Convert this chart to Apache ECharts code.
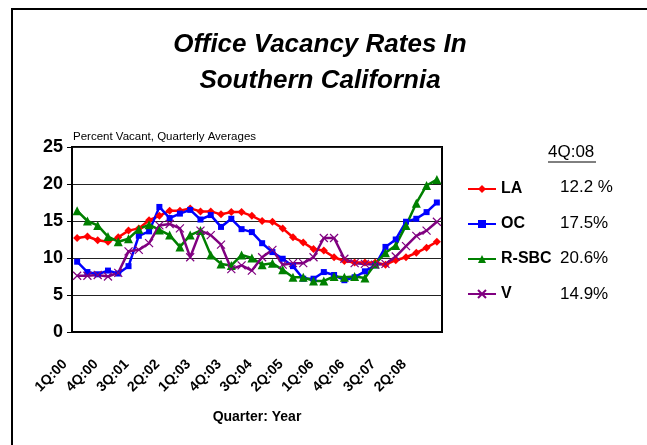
<!DOCTYPE html>
<html>
<head>
<meta charset="utf-8">
<script src="https://cdn.jsdelivr.net/npm/echarts@6/dist/echarts.min.js"></script>
<style>
html,body{margin:0;padding:0;background:#fff;}
#main{width:647px;height:445px;}
</style>
</head>
<body>
<div id="main"></div>
<script>
var quarters = ['1Q:00','2Q:00','3Q:00','4Q:00','1Q:01','2Q:01','3Q:01','4Q:01','1Q:02','2Q:02','3Q:02','4Q:02',
  '1Q:03','2Q:03','3Q:03','4Q:03','1Q:04','2Q:04','3Q:04','4Q:04','1Q:05','2Q:05','3Q:05','4Q:05',
  '1Q:06','2Q:06','3Q:06','4Q:06','1Q:07','2Q:07','3Q:07','4Q:07','1Q:08','2Q:08','3Q:08','4Q:08'];
var seriesNames = ['LA','OC','R-SBC','V'];
var LA = [12.7,12.9,12.4,12.2,12.8,13.7,14.0,15.1,15.7,16.4,16.4,16.7,16.3,16.3,15.9,16.2,16.2,15.7,15.0,14.9,14.0,12.8,12.1,11.2,11.0,10.1,9.6,9.4,9.4,9.4,9.1,9.7,10.1,10.7,11.4,12.2];
var OC = [9.5,8.1,7.8,8.3,7.9,8.9,13.0,13.6,16.9,15.4,16.0,16.5,15.2,15.8,14.2,15.3,13.9,13.5,12.0,10.8,9.9,8.9,7.2,7.2,8.1,7.7,7.0,7.4,8.2,9.0,11.5,12.5,14.9,15.3,16.2,17.5];
var RSBC = [16.4,15.0,14.4,12.9,12.2,12.6,13.9,14.5,13.8,13.1,11.5,13.1,13.7,10.4,9.2,9.0,10.4,10.0,9.1,9.3,8.4,7.4,7.4,6.9,6.9,7.5,7.4,7.5,7.3,9.2,10.7,11.7,14.4,17.4,19.8,20.6];
var V = [7.6,7.6,7.7,7.5,8.0,10.9,11.1,12.0,14.4,14.6,14.0,10.1,13.7,13.1,11.8,8.5,9.0,8.3,10.1,11.1,9.1,9.3,9.3,10.1,12.7,12.7,9.9,9.3,9.2,9.1,9.2,10.2,11.6,13.0,13.7,14.9];
var latestHeader = '4Q:08';
var latestValues = ['12.2 %','17.5%','20.6%','14.9%'];
var yTicks = [0,5,10,15,20,25];

var FONT = "Arial, 'Liberation Sans', sans-serif";
var chart = echarts.init(document.getElementById('main'), null, {renderer:'canvas'});

var colors = ['#FF0000','#0000FF','#008000','#800080'];
var symbols = ['diamond','rect','triangle','path://M0,0L10,10M10,0L0,10'];
var symbolSizes = [8,6,9,8];
var dataSets = [LA, OC, RSBC, V];

var series = seriesNames.map(function(n, i){
  return {
    name: n, type: 'line', data: dataSets[i],
    symbol: symbols[i], symbolSize: symbolSizes[i], showAllSymbol: true,
    lineStyle: {color: colors[i], width: 2.5},
    itemStyle: {color: colors[i], borderColor: colors[i], borderWidth: i===3 ? 1.2 : 0},
    emphasis: {disabled: true},
    animation: false
  };
});

var legendTop = 176, rowGap = 35.5;
var graphics = [
  {type:'rect', shape:{x:12, y:9, width:700, height:500}, style:{fill:'none', stroke:'#000', lineWidth:2}, silent:true},
  {type:'text', left:73, top:131, style:{text:'Percent Vacant, Quarterly Averages', font:'11.5px '+FONT, fill:'#000'}},
  {type:'text', left:548, top:144, style:{text:latestHeader, font:'17px '+FONT, fill:'#000'}},
  {type:'line', shape:{x1:548, y1:162, x2:596, y2:162}, style:{stroke:'#000', lineWidth:1}}
];
latestValues.forEach(function(v, i){
  graphics.push({type:'text', left:560, top: 179 + i*rowGap, style:{text:v, font:'17px '+FONT, fill:'#000'}});
});

chart.setOption({
  animation: false,
  backgroundColor: '#fff',
  title: {
    text: 'Office Vacancy Rates In\nSouthern California',
    left: 315, top: 22, textAlign: 'center',
    textStyle: {fontFamily: FONT, fontSize: 26, fontWeight: 'bold', fontStyle: 'italic', color: '#000', lineHeight: 36}
  },
  grid: {left: 72, top: 147, width: 370, height: 185, show: true, borderColor: '#000', borderWidth: 2, backgroundColor: 'transparent'},
  legend: {
    orient: 'vertical', left: 462, top: legendTop, itemGap: 19,
    itemWidth: 28, itemHeight: 10, itemTextGap: 4,
    data: seriesNames,
    textStyle: {fontFamily: FONT, fontSize: 16, fontWeight: 'bold', color: '#000', lineHeight: 10},
    selectedMode: false
  },
  xAxis: {
    type: 'category', data: quarters, boundaryGap: true,
    name: 'Quarter: Year', nameLocation: 'middle', nameGap: 78,
    nameTextStyle: {fontFamily: FONT, fontSize: 14, fontWeight: 'bold', color: '#000'},
    axisLine: {lineStyle: {color: '#000', width: 2}},
    axisTick: {interval: 0, length: 4, lineStyle: {color: '#000'}},
    axisLabel: {interval: 2, rotate: 45, fontFamily: FONT, fontSize: 14, fontWeight: 'bold', color: '#000', margin: 18, padding: [0, 17, 0, 0]},
    splitLine: {show: false}
  },
  yAxis: {
    type: 'value', min: yTicks[0], max: yTicks[yTicks.length-1], interval: 5,
    axisLine: {show: true, lineStyle: {color: '#000', width: 2}},
    axisTick: {show: true, length: 5, lineStyle: {color: '#000'}},
    axisLabel: {fontFamily: FONT, fontSize: 18, fontWeight: 'bold', color: '#000', margin: 9},
    splitLine: {show: true, lineStyle: {color: '#222', width: 1}}
  },
  graphic: graphics,
  series: series
});
</script>
</body>
</html>
